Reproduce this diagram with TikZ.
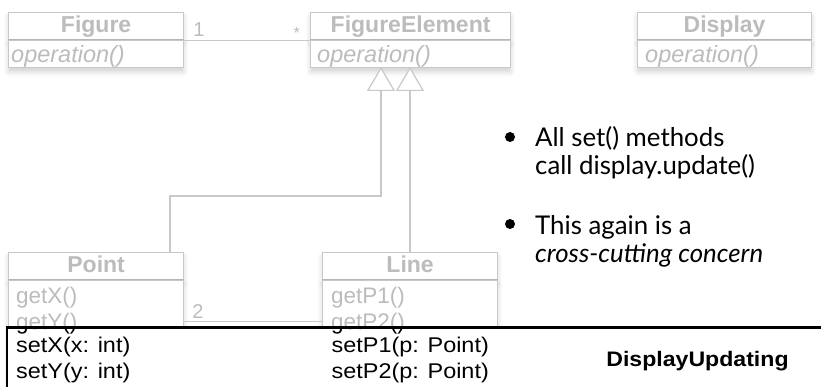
\documentclass[tikz,border=0pt]{standalone}
\usepackage{fontspec}
\setmainfont{Liberation Sans}
\newfontfamily\widesans[FakeStretch=1.1]{Liberation Sans}
\newfontfamily\gillish{Lato}
\usetikzlibrary{arrows.meta, positioning, calc, shadows.blur}
\definecolor{umlline}{RGB}{200,200,200}
\definecolor{umltext}{RGB}{188,188,188}

\tikzset{
  umlbox/.style={draw=umlline, line width=1.2pt, fill=white, anchor=north west,
    inner sep=0pt, blur shadow={shadow xshift=0pt, shadow yshift=-4pt,
    shadow blur radius=5pt, shadow opacity=18}},
  umlhead/.style={umlbox, minimum height=27pt, text=umltext, text height=16pt,
    text depth=3pt, font=\fontsize{23}{26}\selectfont\bfseries},
  umlbody/.style={umlbox, minimum height=27pt},
  umlop/.style={anchor=base west, inner sep=0pt, text=umltext,
    font=\fontsize{22.5}{26}\selectfont},
  opname/.style={umlop, font=\fontsize{23.5}{26}\selectfont\itshape},
  umlmult/.style={anchor=base west, text=umltext, inner sep=0pt, font=\fontsize{20}{20}\selectfont},
  assoc/.style={draw=umlline, line width=1.2pt},
  inherit/.style={draw=umlline, line width=1.2pt,
    -{Triangle[open, length=24pt, width=28pt, fill=white]}},
  setter/.style={anchor=base west, inner sep=0pt, font=\widesans\fontsize{21.3}{26}\selectfont},
  bullettext/.style={anchor=base west, inner sep=0pt, font=\gillish\fontsize{25.8}{28}\selectfont}
}

\begin{document}
\begin{tikzpicture}[x=1pt, y=-1pt]
  \useasboundingbox (0,0) rectangle (821,387);
  \clip (0,0) rectangle (821,387);

  % Top row of classes
  \node[umlhead, minimum width=175pt] (fighead) at (8,12) {Figure};
  \node[umlbody, minimum width=175pt] (figbody) at (fighead.south west) {};
  \node[opname] (figop) at ($(figbody.north west)+(3,22.5)$) {operation()};

  \node[umlhead, minimum width=200pt] (fehead) at (310,12) {FigureElement};
  \node[umlbody, minimum width=200pt] (febody) at (fehead.south west) {};
  \node[opname] (feop) at ($(febody.north west)+(7,22.5)$) {operation()};

  \node[umlhead, minimum width=174pt] (disphead) at (637,12) {Display};
  \node[umlbody, minimum width=174pt] (dispbody) at (disphead.south west) {};
  \node[opname] (dispop) at ($(dispbody.north west)+(8,22.5)$) {operation()};

  % Figure -- FigureElement
  \draw[assoc] (fighead.south east) -- (fehead.south west);
  \node[umlmult] (one) at ($(fighead.south east)+(9,-4)$) {1};
  \node[umlmult, anchor=base east, font=\fontsize{16}{16}\selectfont] (many) at ($(fehead.south west)+(-10,-2)$) {*};

  % Lower row of classes
  \node[umlhead, minimum width=175pt] (pthead) at (8,252) {Point};
  \node[umlbox, minimum width=175pt, minimum height=110pt] (ptbody) at (pthead.south west) {};
  \node[umlop] (getx) at ($(ptbody.north west)+(8,23)$) {getX()};
  \node[umlop] (gety) at ($(ptbody.north west)+(8,49)$) {getY()};

  \node[umlhead, minimum width=175pt] (lnhead) at (322,252) {Line};
  \node[umlbox, minimum width=175pt, minimum height=110pt] (lnbody) at (lnhead.south west) {};
  \node[umlop] (getp1) at ($(lnbody.north west)+(9,23)$) {getP1()};
  \node[umlop] (getp2) at ($(lnbody.north west)+(9,49)$) {getP2()};

  % Point -- Line
  \draw[assoc] ($(ptbody.north east)+(0,41)$) -- ($(lnbody.north west)+(0,41)$);
  \node[umlmult] (two) at ($(ptbody.north east)+(8,38)$) {2};

  % Generalisations to FigureElement
  \coordinate (inhA) at (381,67);
  \coordinate (inhB) at (410,67);
  \draw[inherit] ($(pthead.north west)+(162,0)$) -- ++(0,-56) -| (inhA);
  \draw[inherit] (lnhead.north -| inhB) -- (inhB);

  % Bullets
  \fill (510,137) circle (5pt);
  \node[bullettext] (b1a) at (535,147) {All set() methods};
  \node[bullettext] (b1b) at (535,175) {call display.update()};
  \fill (510,224) circle (5pt);
  \node[bullettext] (b2a) at (535,234) {This again is a};
  \node[bullettext] (b2b) at (535,262) {\itshape cross-cutting concern};

  % DisplayUpdating overlay
  \node[draw=black, line width=1.6pt, fill=white, anchor=north west, inner sep=0pt,
    minimum width=840pt, minimum height=90pt] (upd) at (6,327) {};
  \begin{scope}
    \clip (upd.north west) rectangle (upd.south east);
    \node[umlop, text=black] (gety2) at (gety.base west) {getY()};
    \node[umlop, text=black] (getp2b) at (getp2.base west) {getP2()};
  \end{scope}
  \draw[black, line width=1.6pt] (upd.north west) -- (upd.north east);
  \node[setter] (setx) at (16,352.5) {setX(x: int)};
  \node[setter] (sety) at (16,378) {setY(y: int)};
  \node[setter] (setp1) at (331.5,352.5) {setP1(p: Point)};
  \node[setter] (setp2) at (331.5,378) {setP2(p: Point)};
  \node[anchor=base, inner sep=0pt, font=\widesans\fontsize{21}{22}\selectfont\bfseries] (updname) at (697.5,366.5) {DisplayUpdating};
\end{tikzpicture}
\end{document}
